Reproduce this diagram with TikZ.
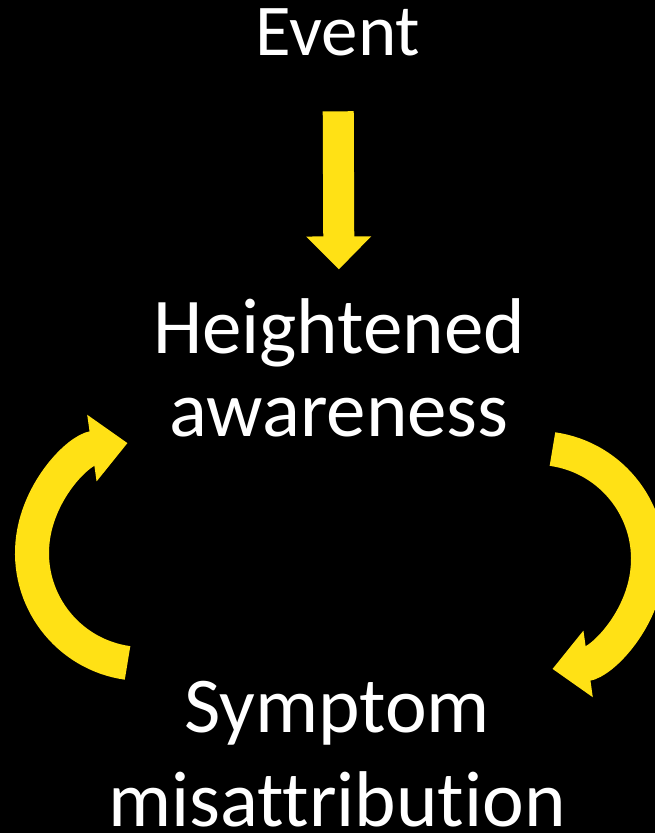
\documentclass[tikz,border=0pt]{standalone}
\usepackage{fontspec}
\setmainfont{Carlito}[Ligatures={NoCommon}]
\usetikzlibrary{arrows.meta}
\definecolor{loopyellow}{HTML}{FFE115}
\tikzset{
  lbl/.style={text=white, align=center, inner sep=0pt, text depth=0pt,
              font=\fontsize{56.2}{59}\selectfont},
  lblsmall/.style={lbl, font=\fontsize{51.9}{55}\selectfont},
  flowdown/.style={-{Triangle[width=1.575cm, length=0.825cm]}, line width=0.775cm, draw=loopyellow},
  flowloop/.style={-{Triangle[width=1.625cm, length=0.9cm]}, line width=0.85cm, draw=loopyellow},
}
\begin{document}
\begin{tikzpicture}[x=0.025cm, y=0.025cm]
    % background
    \fill[black] (0,0) rectangle (655,-833);
    \clip (0,0) rectangle (655,-833);

    % texts
    \node[lblsmall, anchor=base] (event) at (338,-56) {Event};
    \node[lbl, anchor=south, text height=3.575cm] (aware) at (339,-437) {Heightened\\awareness};
    \node[lbl, anchor=south, font=\fontsize{56.2}{66.9}\selectfont] (symptom) at (337,-827) {Symptom\\misattribution};

    % event to awareness
    \draw[flowdown, shorten <=1.375cm, shorten >=0.6cm] (event.south) -- (aware.north);

    % loop between awareness and misattribution
    \path (143,-553) ++(262:111) coordinate (ltail);
    \path (537,-559) ++(82:111) coordinate (rtail);
    \draw[flowloop] (ltail) arc[start angle=262, end angle=98, radius=111];
    \draw[flowloop] (rtail) arc[start angle=82, end angle=-82, radius=111];
\end{tikzpicture}
\end{document}
